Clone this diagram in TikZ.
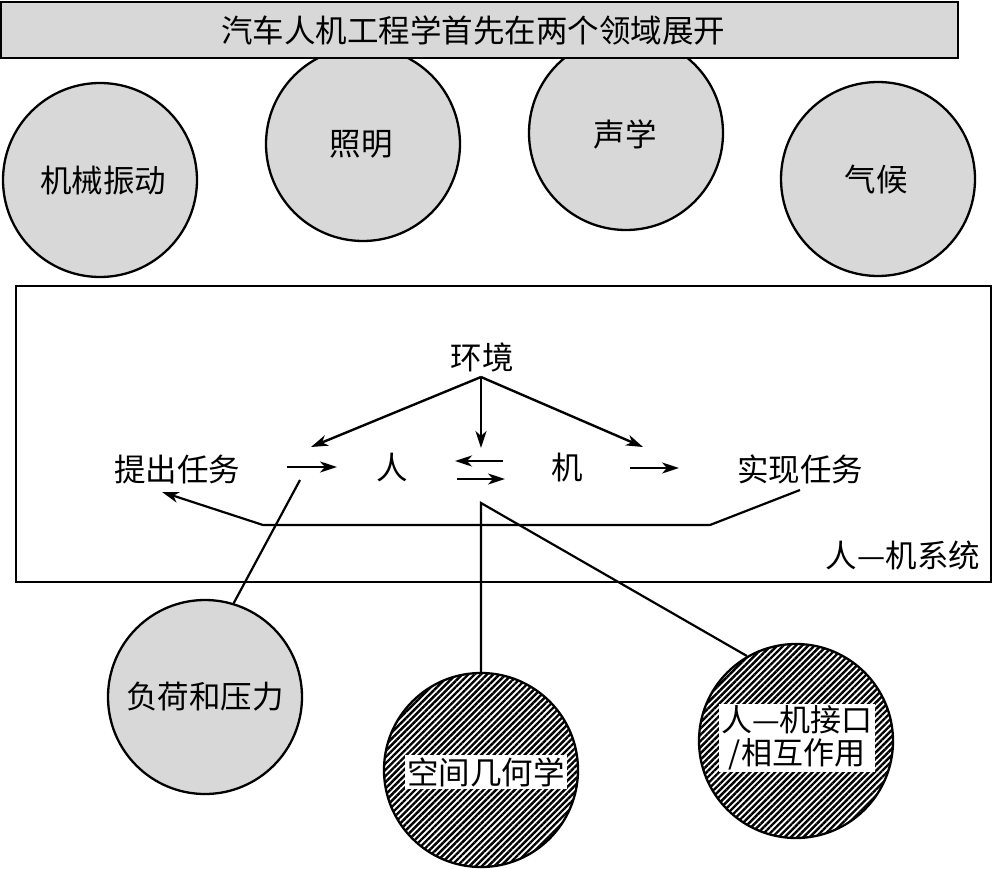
\documentclass[tikz,border=0pt]{standalone}
\usepackage{fontspec}
\setmainfont{Noto Sans CJK SC}
\usetikzlibrary{arrows.meta,patterns.meta}
\definecolor{gfill}{RGB}{216,216,216}
\begin{document}
\begin{tikzpicture}[x=1pt,y=-1pt,
  every node/.style={font=\fontsize{31.5}{35}\selectfont},
  gcirc/.style={circle,draw,line width=2.3pt,fill=gfill,minimum size=194pt,inner sep=0pt},
  hcirc/.style={circle,draw,line width=2.3pt,minimum size=194pt,inner sep=0pt,
     pattern={Lines[angle=45,distance=4.4pt,line width=2.4pt]}},
  wbox/.style={fill=white,inner sep=2pt,align=center},
  barbox/.style={draw,line width=2.5pt,fill=gfill,minimum width=957pt,minimum height=56pt,inner sep=0pt},
  sysbox/.style={draw,line width=2.3pt,minimum width=975pt,minimum height=296pt,inner sep=0pt},
  txt/.style={inner sep=1pt},
  arr/.style={line width=2.4pt,-{Stealth[length=17pt,width=11pt,inset=5pt]}},
  ln/.style={line width=2.2pt}]
\useasboundingbox (0,0) rectangle (995,869);
% top circles
\node[gcirc] (jx) at (100,180) {};
\node[gcirc] (zm) at (363,144) {};
\node[gcirc] (sx) at (626,133) {};
\node[gcirc] (qh) at (878,179) {};
\node[txt] at (103,181) {机械振动};
\node[txt] at (361,144) {照明};
\node[txt] at (625,134) {声学};
\node[txt] at (876,180) {气候};
% title bar
\node[barbox] (title) at (479.5,30) {};
\node[txt] at (473,30) {汽车人机工程学首先在两个领域展开};
% system box
\node[sysbox] (sys) at (503.5,434) {};
\node[txt] (syslab) at (903,555) {人—机系统};
% inner nodes
\node[txt] (hj) at (482,357) {环境};
\node[txt] (tc) at (177,470) {提出任务};
\node[txt] (ren) at (392,468) {人};
\node[txt] (ji) at (567,468) {机};
\node[txt] (sx2) at (800,469) {实现任务};
% coordinates
\coordinate (apex) at (481,377);
\coordinate (tl) at (311,447);
\coordinate (tm) at (481,448);
\coordinate (tr) at (643,447);
\coordinate (a1s) at (287,467); \coordinate (a1e) at (337,467);
\coordinate (a2s) at (503,461); \coordinate (a2e) at (455,461);
\coordinate (a3s) at (457,479); \coordinate (a3e) at (505,479);
\coordinate (a4s) at (630,468); \coordinate (a4e) at (679,468);
\coordinate (fb0) at (800,490);
\coordinate (fb1) at (710,525);
\coordinate (fb2) at (263,525);
\coordinate (fb3) at (162,492);
\coordinate (fhs) at (300,480);
\coordinate (kjs) at (481,503);
% arrows
\draw[arr] (apex) -- (tl);
\draw[arr] (apex) -- (tm);
\draw[arr] (apex) -- (tr);
\draw[arr] (a1s) -- (a1e);
\draw[arr] (a2s) -- (a2e);
\draw[arr] (a3s) -- (a3e);
\draw[arr] (a4s) -- (a4e);
\draw[arr,line width=2.2pt] (fb0) -- (fb1) -- (fb2) -- (fb3);
% bottom circles
\node[gcirc] (fh) at (205,697) {};
\node[txt] at (205,697) {负荷和压力};
\node[hcirc] (kj) at (481,770) {};
\node[wbox] at (486,772) {空间几何学};
\node[hcirc] (jk) at (796,741) {};
\node[wbox,font=\fontsize{31}{33}\selectfont] at (797,738) {人—机接口\\/相互作用};
% connectors
\draw[ln] (fhs) -- (fh.73);
\draw[ln] (kj.north) -- (kjs) -- (jk.120);
\end{tikzpicture}
\end{document}
